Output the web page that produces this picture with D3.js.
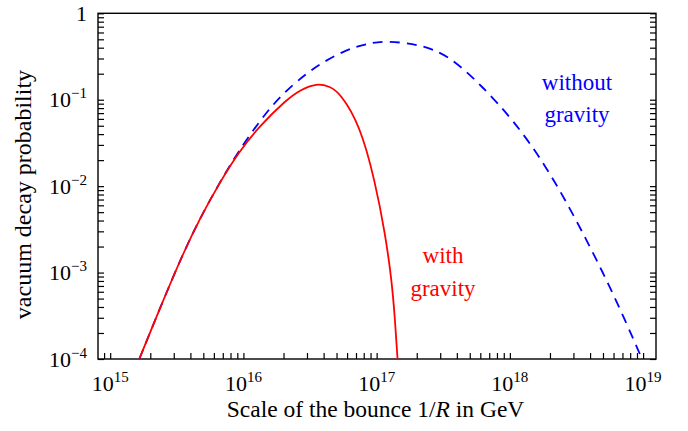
<!DOCTYPE html>
<html>
<head>
<meta charset="utf-8">
<script src="https://cdn.jsdelivr.net/npm/d3@7"></script>
<style>
  body { margin: 0; background: #fff; }
  text { font-family: "Liberation Serif", "Times New Roman", serif; }
</style>
</head>
<body>
<div class="chart"></div>
<script>
// scale of the bounce 1/R (GeV) and decay probability
var gravScale = [1.654e15, 2.504e15, 3.538e15, 4.724e15, 6.674e15, 9.157e15, 1.332e16, 2.113e16,
    2.659e16, 3.549e16, 4.467e16, 5.31e16, 7.50e16, 9.72e16, 1.156e17, 1.298e17, 1.374e17, 1.435e17];
var gravProb = [1e-4, 4.82e-4, 1.684e-3, 4.28e-3, 1.117e-2, 2.451e-2, 5.03e-2, 0.1006,
    0.1296, 0.156, 0.142, 0.1197, 5.10e-2, 1.147e-2, 2.87e-3, 8.2e-4, 2.83e-4, 1e-4];

var noGravScale = [1.654e15, 2.504e15, 3.538e15, 4.724e15, 6.674e15, 9.157e15, 1.332e16,
    1.883e16, 2.987e16, 3.978e16, 5.964e16, 8.42e16, 1.19e17, 2.117e17, 2.824e17, 3.764e17,
    5.969e17, 1.0615e18, 1.891e18, 3.362e18, 5.977e18, 9.82e18];
var noGravProb = [1e-4, 4.82e-4, 1.684e-3, 4.28e-3, 1.117e-2, 2.52e-2, 5.75e-2,
    0.1104, 0.2038, 0.2732, 0.3812, 0.4436, 0.485, 0.4297, 0.3663, 0.2882,
    0.152, 5.83e-2, 1.68e-2, 3.395e-3, 5.76e-4, 1e-4];

var xTickExp = [15, 16, 17, 18, 19];
var yTickExp = [0, -1, -2, -3, -4];

function chart() {
    var width = 688, height = 431;
    var left = 98, right = 656, top = 13.3, bottom = 359;

    var svg = d3.select(".chart").append("svg")
        .attr("width", width)
        .attr("height", height)
        .style("display", "block");

    svg.append("rect")
        .attr("width", width)
        .attr("height", height)
        .attr("fill", "#fff");

    var x = d3.scaleLog().domain([8.1e14, 1.25e19]).range([left, right]);
    var y = d3.scaleLog().domain([1e-4, 1]).range([bottom, top]);

    // tick marks, all pointing into the frame
    svg.append("g")
        .attr("transform", "translate(0," + bottom + ")")
        .call(d3.axisBottom(x).ticks(10).tickSize(-6).tickFormat(""))
        .call(function (g) { g.select(".domain").remove(); });

    svg.append("g")
        .attr("transform", "translate(" + left + ",0)")
        .call(d3.axisLeft(y).ticks(10).tickSize(-6).tickFormat(""))
        .call(function (g) { g.select(".domain").remove(); });

    svg.append("g")
        .attr("transform", "translate(" + right + ",0)")
        .call(d3.axisRight(y).ticks(10).tickSize(-6).tickFormat(""))
        .call(function (g) { g.select(".domain").remove(); });

    svg.selectAll(".tick line")
        .attr("stroke", "#000")
        .attr("stroke-width", 1.2);

    // frame
    svg.append("rect")
        .attr("x", left)
        .attr("y", top)
        .attr("width", right - left)
        .attr("height", bottom - top)
        .attr("fill", "none")
        .attr("stroke", "#000")
        .attr("stroke-width", 1.4);

    // x tick labels 10^n
    var xl = svg.selectAll(".xlab")
        .data(xTickExp)
        .enter().append("text")
        .attr("class", "xlab")
        .attr("x", function (d) { return x(Math.pow(10, d)); })
        .attr("y", 391)
        .attr("text-anchor", "middle")
        .style("font-size", "22px");
    xl.append("tspan").text("10");
    xl.append("tspan")
        .attr("dy", -9)
        .style("font-size", "15px")
        .text(function (d) { return d; });

    // y tick labels
    var yl = svg.selectAll(".ylab")
        .data(yTickExp)
        .enter().append("text")
        .attr("class", "ylab")
        .attr("x", 87)
        .attr("y", function (d) { return y(Math.pow(10, d)) + 7.5; })
        .attr("text-anchor", "end")
        .style("font-size", "22px");
    yl.filter(function (d) { return d === 0; }).text("1");
    var ylp = yl.filter(function (d) { return d !== 0; });
    ylp.append("tspan").text("10");
    ylp.append("tspan")
        .attr("dy", -9)
        .style("font-size", "15px")
        .text(function (d) { return "\u2212" + (-d); });

    // axis titles
    var xt = svg.append("text")
        .attr("x", (left + right) / 2 - 1.5)
        .attr("y", 417)
        .attr("text-anchor", "middle")
        .style("font-size", "23.5px");
    xt.append("tspan").text("Scale of the bounce 1/");
    xt.append("tspan").style("font-style", "italic").text("R");
    xt.append("tspan").text(" in GeV");

    svg.append("text")
        .attr("transform", "translate(31," + 194.5 + ") rotate(-90)")
        .attr("text-anchor", "middle")
        .style("font-size", "24px")
        .text("vacuum decay probability");

    // curves (b-spline through the read points to smooth reading noise)
    var line = d3.line()
        .x(function (d) { return x(d[0]); })
        .y(function (d) { return y(d[1]); })
        .curve(d3.curveBasis);

    svg.append("path")
        .datum(d3.zip(noGravScale, noGravProb))
        .attr("d", line)
        .attr("fill", "none")
        .attr("stroke", "#0000ff")
        .attr("stroke-width", 1.8)
        .attr("stroke-dasharray", "10,7");

    svg.append("path")
        .datum(d3.zip(gravScale, gravProb))
        .attr("d", line)
        .attr("fill", "none")
        .attr("stroke", "#ff0000")
        .attr("stroke-width", 1.8);

    // curve labels
    var blue = svg.append("text")
        .attr("text-anchor", "middle")
        .attr("fill", "#0000ff")
        .style("font-size", "23px");
    blue.append("tspan").attr("x", 577).attr("y", 90).text("without");
    blue.append("tspan").attr("x", 577).attr("y", 122).text("gravity");

    var red = svg.append("text")
        .attr("text-anchor", "middle")
        .attr("fill", "#ff0000")
        .style("font-size", "23px");
    red.append("tspan").attr("x", 443).attr("y", 263).text("with");
    red.append("tspan").attr("x", 443).attr("y", 295.5).text("gravity");
}

chart();
</script>
</body>
</html>
